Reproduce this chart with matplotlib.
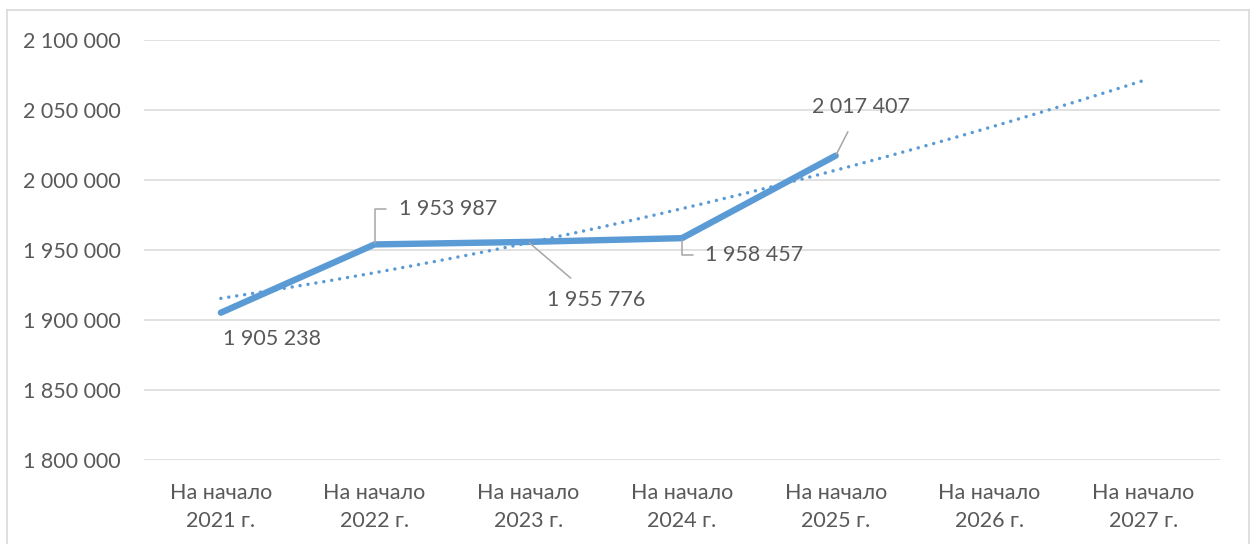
import numpy as np
import matplotlib
matplotlib.use('Agg')
import matplotlib.pyplot as plt
from matplotlib.lines import Line2D

# Data
categories = ['На начало\n2021 г.', 'На начало\n2022 г.', 'На начало\n2023 г.', 'На начало\n2024 г.',
              'На начало\n2025 г.', 'На начало\n2026 г.', 'На начало\n2027 г.']
values = [1905238, 1953987, 1955776, 1958457, 2017407]

# label placement (pixel offsets from the point) and leader style
label_offsets = [(51, -26), (24, 35), (68, -58), (23, -17), (25, 49)]
label_align = [('center', 'center'), ('left', 'center'), ('center', 'center'),
               ('left', 'center'), ('center', 'center')]
leaders = [None, 'elbow', 'straight', 'elbow', 'straight']

plt.rcParams['font.family'] = ['Lato', 'DejaVu Sans']

blue = '#5b9bd5'
text_col = '#595959'
grid_col = '#d9d9d9'
fs = 15.5

fig = plt.figure(figsize=(12.56, 5.44), dpi=100)
ax = fig.add_axes([144 / 1256, 1 - 460 / 544, (1220 - 144) / 1256, 420 / 544])

x = np.arange(len(values))
ax.plot(x, values, color=blue, linewidth=4.6, solid_capstyle='round', zorder=3)

# polynomial (2nd order) trendline, extended to the last category
coef = np.polyfit(x, values, 2)
xt = np.linspace(0, len(categories) - 1, 200)
ax.plot(xt, np.polyval(coef, xt), color=blue, linewidth=2.5,
        linestyle=(0, (0.01, 2.3)), dash_capstyle='round', zorder=2)

ax.set_xlim(-0.5, len(categories) - 0.5)
ax.set_ylim(1800000, 2100000)
ax.set_yticks(np.arange(1800000, 2100001, 50000))
ax.set_yticklabels([f'{v:,}'.replace(',', ' ') for v in range(1800000, 2100001, 50000)])
ax.set_xticks(range(len(categories)))
ax.set_xticklabels(categories, linespacing=1.5)

ax.grid(axis='y', color=grid_col, linewidth=1.1)
ax.set_axisbelow(True)
for s in ax.spines.values():
    s.set_visible(False)
ax.tick_params(axis='both', length=0, labelsize=fs, labelcolor=text_col)
ax.tick_params(axis='y', pad=16.5)
ax.tick_params(axis='x', pad=16.5)

# data labels
for i, v in enumerate(values):
    dx, dy = label_offsets[i]
    ha, va = label_align[i]
    label = f'{v:,}'.replace(',', ' ')
    if leaders[i] == 'elbow':
        arrow = dict(arrowstyle='-', color='#a6a6a6', lw=1.1, shrinkA=7, shrinkB=1,
                     relpos=(0, 0.5), connectionstyle='angle,angleA=0,angleB=90,rad=0')
    elif leaders[i] == 'straight':
        arrow = dict(arrowstyle='-', color='#a6a6a6', lw=1.1, shrinkA=10, shrinkB=1)
    else:
        arrow = None
    ax.annotate(label, xy=(i, v), xycoords='data', xytext=(dx, dy), textcoords='offset pixels',
                ha=ha, va=va, fontsize=fs, color=text_col, arrowprops=arrow, zorder=4)

# chart border
for xs, ys in [([7 / 1256, 7 / 1256], [0, 1 - 10 / 544]),
               ([7 / 1256, 1249 / 1256], [1 - 10 / 544, 1 - 10 / 544]),
               ([1249 / 1256, 1249 / 1256], [1 - 10 / 544, 0])]:
    fig.add_artist(Line2D(xs, ys, transform=fig.transFigure, color=grid_col, linewidth=1.2))

fig.savefig('out.png', dpi=100)
